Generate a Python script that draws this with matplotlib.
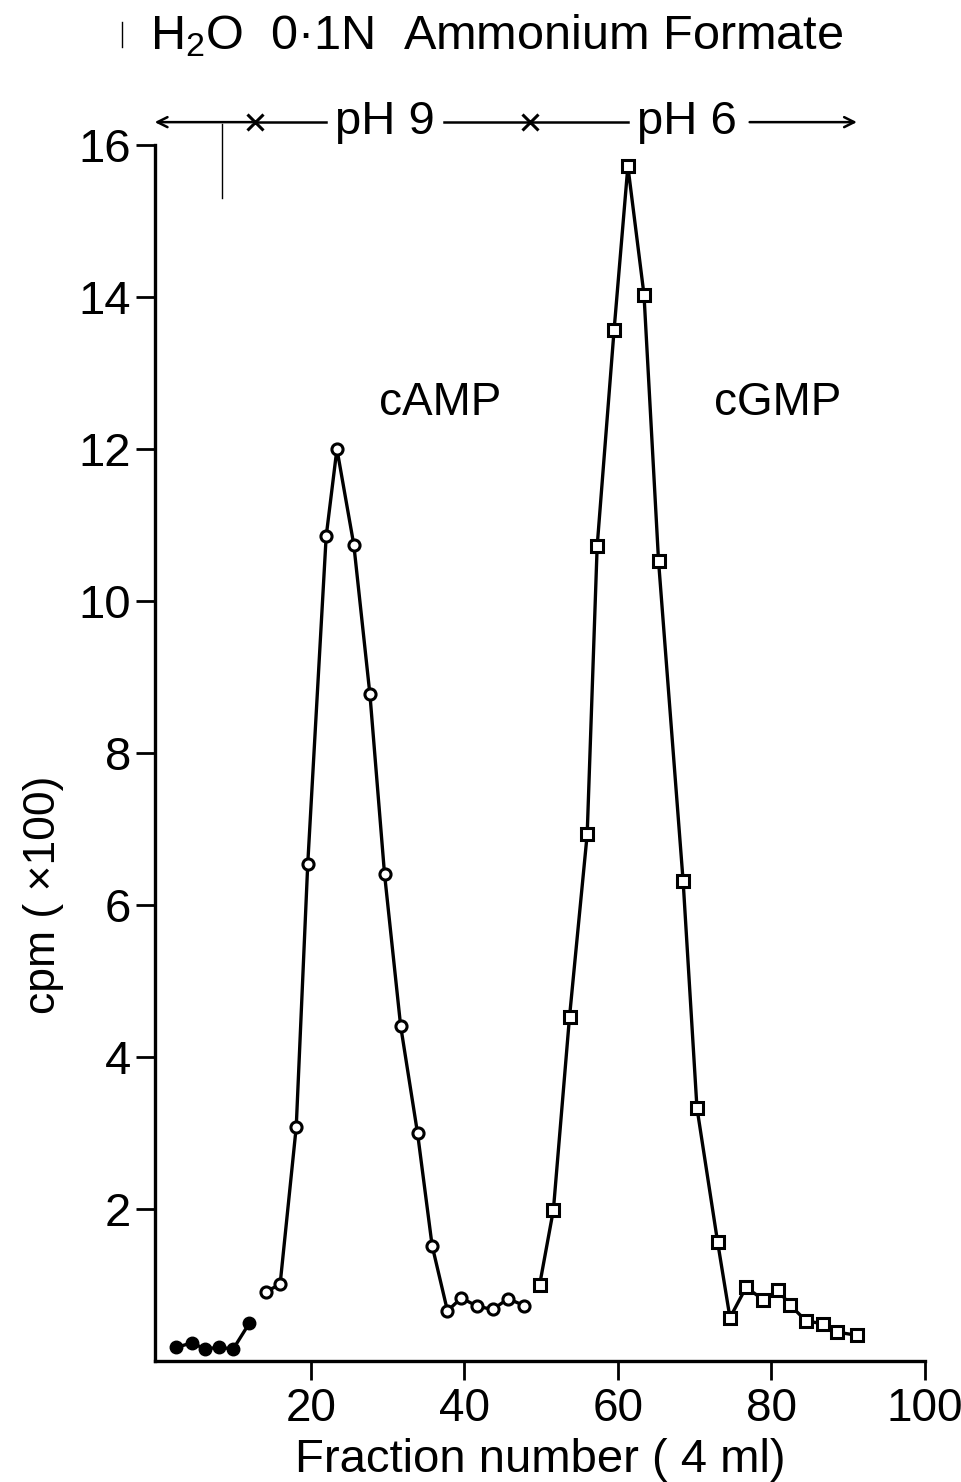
import matplotlib
matplotlib.use("Agg")
import matplotlib.pyplot as plt

plt.rcParams['font.family'] = ['Liberation Sans', 'DejaVu Sans']
plt.rcParams['mathtext.default'] = 'regular'

# fractions eluted with water (filled circles)
h2o_x = [2.5, 4.5, 6.2, 8.0, 9.9, 12.0]
h2o_y = [0.18, 0.24, 0.16, 0.18, 0.16, 0.50]

# cAMP peak, pH 9 (open circles)
camp_x = [14.1, 16.0, 18.1, 19.6, 22.0, 23.4, 25.6, 27.7, 29.6, 31.7, 33.9, 35.8,
          37.8, 39.6, 41.7, 43.7, 45.7, 47.8]
camp_y = [0.91, 1.01, 3.08, 6.54, 10.85, 12.0, 10.74, 8.77, 6.41, 4.41, 3.0, 1.52,
          0.66, 0.83, 0.72, 0.68, 0.82, 0.73]

# cGMP peak, pH 6 (open squares)
cgmp_x = [49.8, 51.6, 53.7, 56.0, 57.3, 59.5, 61.3, 63.4, 65.3, 68.5, 70.3, 73.0,
          74.6, 76.7, 78.9, 80.9, 82.4, 84.5, 86.7, 88.6, 91.1]
cgmp_y = [1.0, 1.99, 4.53, 6.93, 10.72, 13.56, 15.72, 14.03, 10.52, 6.31, 3.33, 1.56,
          0.57, 0.97, 0.81, 0.93, 0.74, 0.53, 0.49, 0.38, 0.34]

xticks = [20, 40, 60, 80, 100]
yticks = [2, 4, 6, 8, 10, 12, 14, 16]

fig = plt.figure(figsize=(9.62, 14.82), dpi=100)
ax = fig.add_axes([0.1611, 0.0816, 0.8004, 0.8206])

ax.plot(h2o_x, h2o_y, '-o', color='black', lw=2.4, ms=9, mfc='black', mec='black')
ax.plot(camp_x, camp_y, '-o', color='black', lw=2.4, ms=8, mfc='white', mec='black', mew=2.2)
ax.plot(cgmp_x, cgmp_y, '-s', color='black', lw=2.4, ms=8.5, mfc='white', mec='black', mew=2.2)

ax.set_xlim(-0.3, 100)
ax.set_ylim(0, 16)
ax.set_xticks(xticks)
ax.set_yticks(yticks)
ax.spines['top'].set_visible(False)
ax.spines['right'].set_visible(False)
for s in ['left', 'bottom']:
    ax.spines[s].set_linewidth(2.4)
ax.tick_params(axis='both', direction='out', length=14, width=2)
ax.tick_params(axis='y', pad=3, labelsize=34)
ax.tick_params(axis='x', pad=5, labelsize=33)

ax.set_xlabel('Fraction number ( 4 ml)', fontsize=34, labelpad=5)
ax.set_ylabel('cpm ( ×100)', fontsize=32)
ax.yaxis.set_label_coords(-0.118, 0.383)

ax.text(36.8, 12.6, 'cAMP', fontsize=33, ha='center', va='center')
ax.text(80.8, 12.6, 'cGMP', fontsize=33, ha='center', va='center')

# elution header
fig.text(0.156, 0.976, 'H$_2$O  0·1N  Ammonium Formate', fontsize=35, ha='left', va='center')
fig.add_artist(plt.Line2D([0.127, 0.127], [0.968, 0.985], color='black', lw=1))

yh = 16.3
ax.annotate('', xy=(-0.7, yh), xytext=(12.7, yh), annotation_clip=False,
            arrowprops=dict(arrowstyle='->', lw=1.8, color='black', mutation_scale=18))
ax.plot([12.7, 22.0], [yh, yh], color='black', lw=1.8, clip_on=False)
ax.plot([37.3, 61.3], [yh, yh], color='black', lw=1.8, clip_on=False)
ax.plot([12.7, 48.5], [yh, yh], 'x', color='black', ms=11, mew=2.2, clip_on=False)
ax.annotate('', xy=(91.5, yh), xytext=(76.8, yh), annotation_clip=False,
            arrowprops=dict(arrowstyle='->', lw=1.8, color='black', mutation_scale=18))
ax.text(29.6, yh, 'pH 9', fontsize=34, ha='center', va='center', clip_on=False)
ax.text(69.0, yh, 'pH 6', fontsize=34, ha='center', va='center', clip_on=False)
ax.plot([8.4, 8.4], [16.27, 15.3], color='black', lw=1, clip_on=False)

fig.savefig('out.png', dpi=100)
